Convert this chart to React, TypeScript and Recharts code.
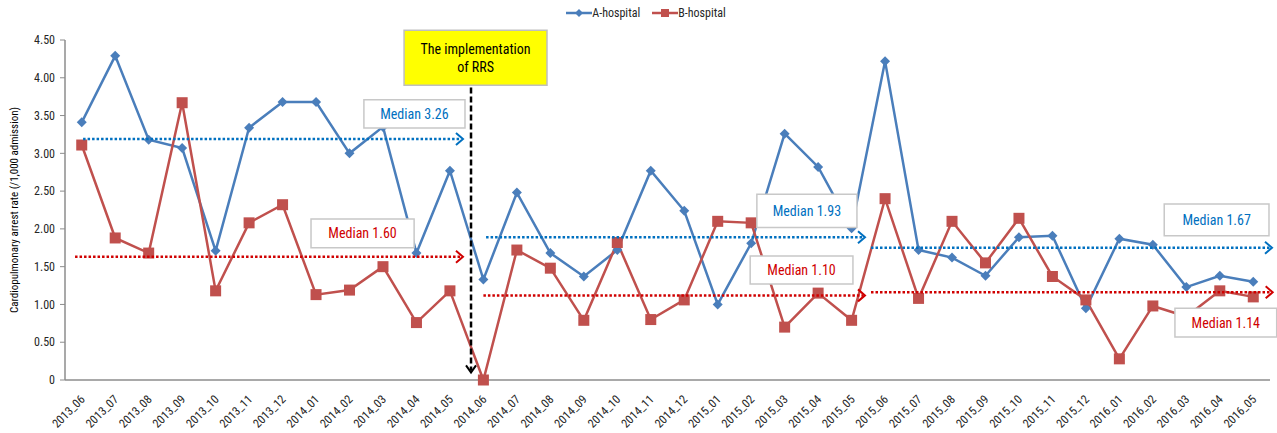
import { LineChart, Line, XAxis, YAxis, ReferenceLine, ReferenceArea, Legend } from "recharts";

const months = [
  "2013_06", "2013_07", "2013_08", "2013_09", "2013_10", "2013_11", "2013_12",
  "2014_01", "2014_02", "2014_03", "2014_04", "2014_05", "2014_06", "2014_07",
  "2014_08", "2014_09", "2014_10", "2014_11", "2014_12", "2015_01", "2015_02",
  "2015_03", "2015_04", "2015_05", "2015_06", "2015_07", "2015_08", "2015_09",
  "2015_10", "2015_11", "2015_12", "2016_01", "2016_02", "2016_03", "2016_04",
  "2016_05",
];

const hospitalA = [
  3.41, 4.29, 3.18, 3.07, 1.71, 3.34, 3.68, 3.68, 3.0, 3.35, 1.68, 2.77,
  1.33, 2.48, 1.68, 1.37, 1.72, 2.77, 2.24, 1.0, 1.81, 3.26, 2.82, 2.01,
  4.22, 1.72, 1.62, 1.38, 1.89, 1.91, 0.95, 1.87, 1.79, 1.23, 1.38, 1.3,
];

const hospitalB = [
  3.11, 1.88, 1.68, 3.67, 1.18, 2.08, 2.32, 1.13, 1.19, 1.5, 0.76, 1.18,
  0, 1.72, 1.48, 0.79, 1.82, 0.8, 1.06, 2.1, 2.08, 0.7, 1.15, 0.79,
  2.4, 1.08, 2.1, 1.55, 2.14, 1.37, 1.06, 0.28, 0.98, 0.84, 1.18, 1.1,
];

const yTicks = [0, 0.5, 1, 1.5, 2, 2.5, 3, 3.5, 4, 4.5];

// median segments: level, from index, to index
const medianLevels = [3.19, 1.63, 1.89, 1.12, 1.75, 1.16];
const medianFrom = [0.04, -0.2, 12.08, 12.0, 23.58, 23.58];
const medianTo = [11.39, 11.39, 23.4, 23.4, 35.56, 35.58];
const medianText = ["Median 3.26", "Median 1.60", "Median 1.93", "Median 1.10", "Median 1.67", "Median 1.14"];
const medianColor = ["#0070c0", "#d00000", "#0070c0", "#d00000", "#0070c0", "#d00000"];
// label boxes in data units
const boxX1 = [8.43, 6.85, 20.17, 19.97, 32.34, 32.66];
const boxX2 = [11.45, 9.93, 23.16, 23.04, 35.47, 35.7];
const boxY1 = [3.335, 1.75, 2.02, 1.27, 1.91, 0.57];
const boxY2 = [3.71, 2.13, 2.46, 1.64, 2.33, 0.95];

const data = months.map((m, i) => ({ idx: i, month: m, a: hospitalA[i], b: hospitalB[i] }));

const FONT = "'Liberation Sans Narrow', 'Roboto Condensed', 'Arial Narrow', 'Liberation Sans', sans-serif";
const BLUE = "#4a7ebb";
const RED = "#c0504d";

const MonthTick = (props: any) => {
  const { x, y, payload } = props;
  return (
    <text
      x={x + 4}
      y={y + 6}
      transform={`rotate(-45, ${x + 4}, ${y + 6})`}
      textAnchor="end"
      fontSize={12}
      fontFamily={FONT}
      fill="#262626"
    >
      {months[payload.value]}
    </text>
  );
};

const Diamond = (props: any) => {
  const { cx, cy, index } = props;
  if (cx == null || cy == null) return <g key={index} />;
  return <path key={index} d={`M${cx},${cy - 5}L${cx + 5},${cy}L${cx},${cy + 5}L${cx - 5},${cy}Z`} fill={BLUE} />;
};

const Square = (props: any) => {
  const { cx, cy, index } = props;
  if (cx == null || cy == null) return <g key={index} />;
  return <rect key={index} x={cx - 5.5} y={cy - 5.5} width={11} height={11} fill={RED} />;
};

const arrowLine = (color: string) => (p: any) => {
  const { x1, y1, x2, y2 } = p;
  return (
    <g>
      <line x1={x1} y1={y1} x2={x2 - 2} y2={y2} stroke={color} strokeWidth={2.5} strokeDasharray="2.5 2" />
      <polyline points={`${x2 - 7},${y2 - 6} ${x2},${y2} ${x2 - 7},${y2 + 6}`} fill="none" stroke={color} strokeWidth={2} />
    </g>
  );
};

const downArrow = (p: any) => {
  const { x1, y1, x2, y2 } = p;
  return (
    <g>
      <line x1={x1} y1={y1} x2={x2} y2={y2 - 2} stroke="#000" strokeWidth={2.5} strokeDasharray="6 3" />
      <polyline points={`${x2 - 5},${y2 - 7} ${x2},${y2} ${x2 + 5},${y2 - 7}`} fill="none" stroke="#000" strokeWidth={2} />
    </g>
  );
};

const LegendContent = () => (
  <div style={{ display: "flex", justifyContent: "center", gap: 12, fontFamily: FONT, fontSize: 12, color: "#262626", paddingLeft: 22 }}>
    <span style={{ display: "flex", alignItems: "center" }}>
      <svg width={26} height={10}>
        <line x1={0} y1={5} x2={26} y2={5} stroke={BLUE} strokeWidth={2.5} />
        <path d="M13,1L17,5L13,9L9,5Z" fill={BLUE} />
      </svg>
      A-hospital
    </span>
    <span style={{ display: "flex", alignItems: "center" }}>
      <svg width={26} height={10}>
        <line x1={0} y1={5} x2={26} y2={5} stroke={RED} strokeWidth={2.5} />
        <rect x={9} y={1} width={8} height={8} fill={RED} />
      </svg>
      B-hospital
    </span>
  </div>
);

export default function App() {
  return (
    <div style={{ position: "absolute", left: 0, top: 0, width: 1277, height: 433, background: "#fff" }}>
      <LineChart width={1277} height={433} data={data} margin={{ top: 20, right: 7, left: 0, bottom: 0 }}>
        <Legend verticalAlign="top" height={20} content={<LegendContent />} wrapperStyle={{ top: 6 }} />
        <XAxis
          type="number"
          dataKey="idx"
          domain={[-0.5, 35.5]}
          ticks={months.map((_, i) => i - 0.5).concat([35.5])}
          interval={0}
          tick={false}
          tickSize={5}
          tickLine={{ stroke: "#8c8c8c" }}
          axisLine={{ stroke: "#8c8c8c", strokeWidth: 1.5 }}
          height={6}
        />
        <XAxis
          xAxisId="labels"
          type="number"
          dataKey="idx"
          domain={[-0.5, 35.5]}
          ticks={months.map((_, i) => i)}
          interval={0}
          tickLine={false}
          axisLine={false}
          tick={<MonthTick />}
          height={47}
        />
        <YAxis
          domain={[0, 4.5]}
          ticks={yTicks}
          interval={0}
          width={65}
          tickSize={5}
          tickFormatter={(v: number) => (v === 0 ? "0" : v.toFixed(2))}
          tick={{ fontSize: 12, fill: "#262626", fontFamily: FONT, dx: -3 }}
          tickLine={{ stroke: "#8c8c8c" }}
          axisLine={{ stroke: "#8c8c8c", strokeWidth: 1.5 }}
          label={{
            value: "Cardiopulmonary arrest rate (/1,000 admission)",
            angle: -90,
            position: "insideLeft",
            offset: 14,
            style: { textAnchor: "middle", fontSize: 11, fill: "#000", fontFamily: FONT },
          }}
        />
        <Line type="linear" dataKey="a" name="A-hospital" stroke={BLUE} strokeWidth={2.5} dot={Diamond} activeDot={false} isAnimationActive={false} />
        <Line type="linear" dataKey="b" name="B-hospital" stroke={RED} strokeWidth={2.5} dot={Square} activeDot={false} isAnimationActive={false} />
        {medianLevels.map((lv, i) => (
          <ReferenceLine
            key={`m${i}`}
            segment={[{ x: medianFrom[i], y: lv }, { x: medianTo[i], y: lv }]}
            ifOverflow="visible"
            zIndex={700}
            shape={arrowLine(medianColor[i])}
          />
        ))}
        <ReferenceLine segment={[{ x: 11.63, y: 3.87 }, { x: 11.63, y: 0.1 }]} ifOverflow="visible" zIndex={700} shape={downArrow} />
        {medianText.map((t, i) => (
          <ReferenceArea
            key={`b${i}`}
            x1={boxX1[i]}
            x2={boxX2[i]}
            y1={boxY1[i]}
            y2={boxY2[i]}
            ifOverflow="visible"
            zIndex={800}
            fill="#fff"
            fillOpacity={1}
            stroke="#c8c8c8"
            strokeWidth={1.5}
            label={{ value: t, position: "center", fill: medianColor[i], fontSize: 14, fontFamily: FONT }}
          />
        ))}
        <ReferenceArea
          x1={9.63}
          x2={13.9}
          y1={3.9}
          y2={4.63}
          ifOverflow="visible"
          zIndex={800}
          fill="#ffff00"
          fillOpacity={1}
          stroke="#bfbfbf"
          strokeWidth={1.5}
          label={(p: any) => {
            const vb = p.viewBox;
            const cx = vb.x + vb.width / 2;
            const cy = vb.y + vb.height / 2;
            return (
              <text x={cx} textAnchor="middle" fontSize={14} fontFamily={FONT} fill="#000">
                <tspan x={cx} y={cy - 4}>The implementation</tspan>
                <tspan x={cx} y={cy + 14}>of RRS</tspan>
              </text>
            );
          }}
        />
      </LineChart>
    </div>
  );
}
